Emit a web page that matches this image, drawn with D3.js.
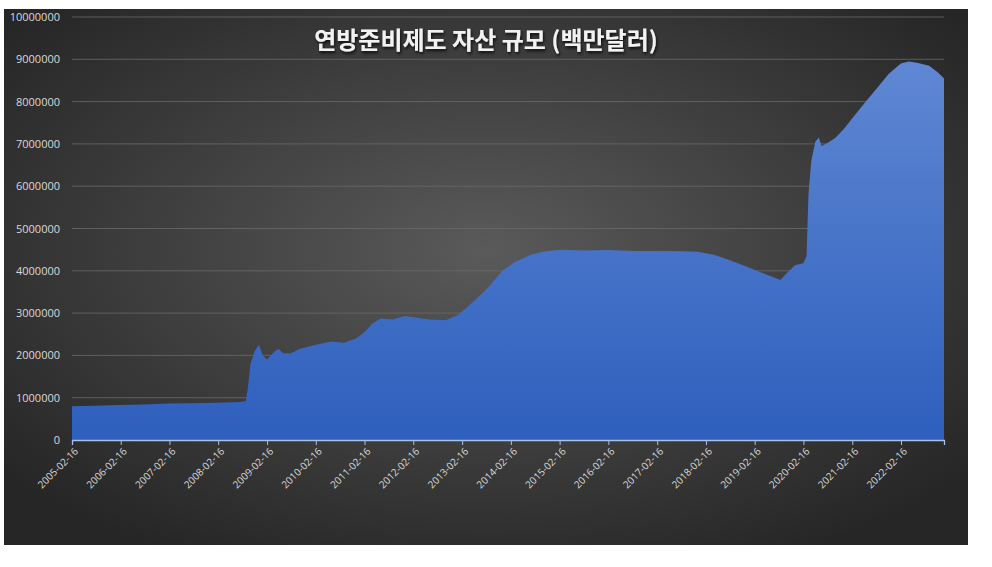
<!DOCTYPE html>
<html><head><meta charset="utf-8">
<script src="https://cdn.jsdelivr.net/npm/d3@7"></script>
<style>body{margin:0;background:#fff}svg{display:block}</style></head>
<body><svg id="c" width="992" height="567"></svg>
<script>
const title = "연방준비제도 자산 규모 (백만달러)";
const dates = ["2005-02-16","2005-08-01","2006-02-01","2006-08-01","2007-02-01","2007-08-01","2008-02-01","2008-08-01","2008-09-10","2008-09-24","2008-10-15","2008-11-15","2008-12-17","2009-01-15","2009-02-15","2009-03-15","2009-04-15","2009-05-15","2009-06-15","2009-08-15","2009-10-15","2009-12-15","2010-02-15","2010-06-15","2010-09-15","2010-12-15","2011-02-15","2011-04-15","2011-06-15","2011-09-15","2011-12-15","2012-02-15","2012-06-15","2012-10-15","2013-01-15","2013-04-15","2013-08-15","2013-12-15","2014-03-15","2014-07-15","2014-10-15","2015-02-15","2015-08-15","2016-02-15","2016-08-15","2017-02-15","2017-08-15","2017-12-15","2018-04-15","2018-08-15","2018-12-15","2019-04-15","2019-08-28","2019-10-15","2019-12-15","2020-02-15","2020-03-11","2020-03-25","2020-04-15","2020-05-15","2020-06-10","2020-07-01","2020-08-15","2020-10-15","2020-12-15","2021-02-15","2021-05-15","2021-08-15","2021-11-15","2022-02-15","2022-04-15","2022-06-15","2022-09-15","2022-11-15","2023-01-04"];
const values = [800000,810000,830000,840000,860000,870000,880000,900000,920000,1200000,1800000,2100000,2250000,2000000,1900000,2000000,2100000,2150000,2050000,2050000,2150000,2200000,2250000,2330000,2300000,2400000,2550000,2750000,2870000,2850000,2930000,2900000,2850000,2830000,2950000,3200000,3550000,4000000,4200000,4380000,4450000,4500000,4480000,4490000,4470000,4470000,4460000,4450000,4380000,4250000,4100000,3950000,3780000,3950000,4130000,4180000,4350000,5800000,6600000,7050000,7150000,6950000,7020000,7150000,7350000,7600000,7950000,8300000,8650000,8900000,8950000,8920000,8850000,8700000,8550000];
const yTicks = [0,1000000,2000000,3000000,4000000,5000000,6000000,7000000,8000000,9000000,10000000];
const xTickLabels = ["2005-02-16","2006-02-16","2007-02-16","2008-02-16","2009-02-16","2010-02-16","2011-02-16","2012-02-16","2013-02-16","2014-02-16","2015-02-16","2016-02-16","2017-02-16","2018-02-16","2019-02-16","2020-02-16","2021-02-16","2022-02-16"];

const svg = d3.select("#c");
const defs = svg.append("defs");
const rg = defs.append("radialGradient").attr("id","bg").attr("cx","50%").attr("cy","45%").attr("r","65%");
rg.append("stop").attr("offset","0%").attr("stop-color","#5a5a5a");
rg.append("stop").attr("offset","100%").attr("stop-color","#262626");
const lg = defs.append("linearGradient").attr("id","fill").attr("x1",0).attr("y1",0).attr("x2",0).attr("y2",1);
lg.append("stop").attr("offset","0%").attr("stop-color","#5f87d3");
lg.append("stop").attr("offset","100%").attr("stop-color","#2e5fbd");
const f = defs.append("filter").attr("id","sh");
f.append("feDropShadow").attr("dx",1).attr("dy",2).attr("stdDeviation",1.5).attr("flood-color","#000").attr("flood-opacity",0.8);

svg.append("rect").attr("x",4).attr("y",9).attr("width",964).attr("height",536).attr("fill","url(#bg)");

const parse = d3.timeParse("%Y-%m-%d");
const data = dates.map((d,i)=>({d:parse(d),v:values[i]}));
const x = d3.scaleTime().domain([parse("2005-02-16"),parse("2023-01-04")]).range([72,944]);
const y = d3.scaleLinear().domain([0,10000000]).range([440,17]);

svg.append("g").selectAll("line").data(yTicks.slice(1)).join("line")
  .attr("x1",72).attr("x2",944).attr("y1",d=>y(d)).attr("y2",d=>y(d))
  .attr("stroke","#6a6a6a").attr("stroke-width",0.8);

svg.append("path").datum(data).attr("fill","url(#fill)")
  .attr("d",d3.area().x(d=>x(d.d)).y0(y(0)).y1(d=>y(d.v)));

const ya = svg.append("g").attr("transform","translate(72,0)")
  .call(d3.axisLeft(y).tickValues(yTicks).tickFormat(d3.format("d")).tickSize(0).tickPadding(12));
ya.select(".domain").remove();
ya.selectAll("text").attr("fill","#d9d9d9").style("font","11px 'Open Sans', sans-serif");

const xa = svg.append("g").attr("transform","translate(0,440)")
  .call(d3.axisBottom(x).tickValues(xTickLabels.map(parse)).tickFormat(d3.timeFormat("%Y-%m-%d")).tickSize(5));
xa.select(".domain").attr("stroke","#a9c0e6").attr("stroke-width",1.3);
xa.selectAll("line").attr("stroke","#a9c0e6");
xa.selectAll("text").attr("fill","#d9d9d9").style("font","10px 'Open Sans', sans-serif")
  .attr("text-anchor","end").attr("transform","rotate(-45)").attr("dx","-0.4em").attr("dy","0.5em");

svg.append("text").attr("x",486).attr("y",49).attr("text-anchor","middle")
  .attr("fill","#f2f2f2").attr("filter","url(#sh)")
  .style("font","bold 24px 'Noto Sans CJK KR', sans-serif").text(title);
</script></body></html>
